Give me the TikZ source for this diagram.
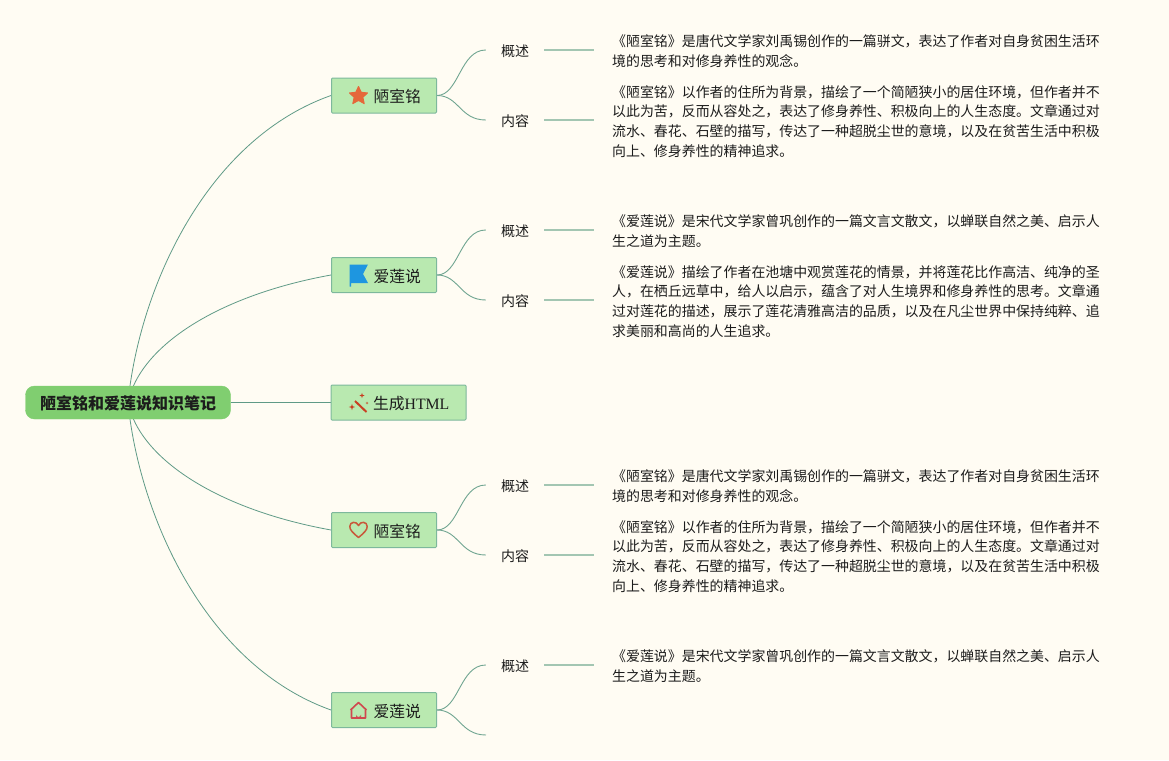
\documentclass[tikz,border=0pt]{standalone}
\usepackage{fontspec}
\setmainfont{Noto Sans CJK SC}
\newfontfamily\lat{Liberation Serif}
\usetikzlibrary{backgrounds,calc}
\definecolor{pagebg}{HTML}{FFFCF3}
\definecolor{rootfill}{HTML}{80CE70}
\definecolor{topicfill}{HTML}{B9E9B0}
\definecolor{topicedge}{HTML}{7DB89C}
\definecolor{mainline}{HTML}{5F9A86}
\definecolor{subline}{HTML}{A3C6B2}
\definecolor{ink}{HTML}{1C1C1C}
\definecolor{staricon}{HTML}{E5673A}
\definecolor{flagicon}{HTML}{1E96E0}
\definecolor{wandicon}{HTML}{C93F22}
\definecolor{hearticon}{HTML}{C8583A}
\definecolor{houseicon}{HTML}{D0484E}
\tikzset{
 x=1pt,y=-1pt,
 rootbox/.style={draw=rootfill,fill=rootfill,rounded corners=9pt,minimum width=205pt,minimum height=33pt,inner sep=0pt,font=\fontsize{16}{18}\selectfont\bfseries,text=ink,text height=15pt,text depth=1pt},
 topicbox/.style={draw=topicedge,line width=1pt,fill=topicfill,rounded corners=1pt,minimum width=105pt,minimum height=35pt,inner sep=0pt,font=\fontsize{15.8}{18}\selectfont,text=ink,text height=15pt,text depth=1pt},
 labelbox/.style={minimum width=58pt,minimum height=20pt,inner sep=0pt,font=\fontsize{14}{16}\selectfont,text=ink,text height=14pt,text depth=1.4pt},
 notebox/.style={anchor=west,align=left,inner xsep=18pt,inner ysep=0pt,font=\fontsize{13.93}{19.8}\selectfont,text=ink},
 mainedge/.style={draw=mainline,line width=0.8pt},
 subedge/.style={draw=subline,line width=1.2pt},
 subcurve/.style={draw=mainline!75!subline,line width=0.9pt},
}
\newcommand{\subcurveto}[2]{\draw[subcurve] (#1.east) .. controls ($(#1.east)+(22,0)$) and ($(#2.west)+(-26,0)$) .. (#2.west);}
\newcommand{\sparkle}[3]{\fill[wandicon] (#1-#3,#2) -- (#1-0.25*#3,#2-0.25*#3) -- (#1,#2-#3) -- (#1+0.25*#3,#2-0.25*#3) -- (#1+#3,#2) -- (#1+0.25*#3,#2+0.25*#3) -- (#1,#2+#3) -- (#1-0.25*#3,#2+0.25*#3) -- cycle;}
\newcommand{\LoushiA}{《陋室铭》是唐代文学家刘禹锡创作的一篇骈文，表达了作者对自身贫困生活环\\境的思考和对修身养性的观念。}
\newcommand{\LoushiB}{《陋室铭》以作者的住所为背景，描绘了一个简陋狭小的居住环境，但作者并不\\以此为苦，反而从容处之，表达了修身养性、积极向上的人生态度。文章通过对\\流水、春花、石壁的描写，传达了一种超脱尘世的意境，以及在贫苦生活中积极\\向上、修身养性的精神追求。}
\newcommand{\AilianA}{《爱莲说》是宋代文学家曾巩创作的一篇文言文散文，以蝉联自然之美、启示人\\生之道为主题。}
\newcommand{\AilianB}{《爱莲说》描绘了作者在池塘中观赏莲花的情景，并将莲花比作高洁、纯净的圣\\人，在栖丘远草中，给人以启示，蕴含了对人生境界和修身养性的思考。文章通\\过对莲花的描述，展示了莲花清雅高洁的品质，以及在凡尘世界中保持纯粹、追\\求美丽和高尚的人生追求。}
\begin{document}
\begin{tikzpicture}
\useasboundingbox (0,0) rectangle (1169,760);
% nodes
\node[rootbox] (root) at (128,402.5) {陋室铭和爱莲说知识笔记};
\node[topicbox,text width=95pt,align=left] (t1) at (384,95.5) {\hspace*{37pt}陋室铭};
\node[topicbox,text width=95pt,align=left] (t2) at (384,275) {\hspace*{37pt}爱莲说};
\node[topicbox,minimum width=135pt,text width=125pt,align=left] (t3) at (398.5,402.5) {\hspace*{37pt}生成{\lat HTML}};
\node[topicbox,text width=95pt,align=left] (t4) at (384,530) {\hspace*{37pt}陋室铭};
\node[topicbox,text width=95pt,align=left] (t5) at (384,710) {\hspace*{37pt}爱莲说};
\node[labelbox] (l1a) at (515,50) {概述};
\node[labelbox] (l1b) at (515,120) {内容};
\node[labelbox] (l2a) at (515,230) {概述};
\node[labelbox] (l2b) at (515,300) {内容};
\node[labelbox] (l4a) at (515,485) {概述};
\node[labelbox] (l4b) at (515,555) {内容};
\node[labelbox] (l5a) at (515,665) {概述};
\coordinate (l5bend) at (486,735);
\node[notebox] (n1a) at (594,51.5) {\LoushiA};
\node[notebox] (n1b) at (594,121.5) {\LoushiB};
\node[notebox] (n2a) at (594,231.5) {\AilianA};
\node[notebox] (n2b) at (594,301.5) {\AilianB};
\node[notebox] (n4a) at (594,486.5) {\LoushiA};
\node[notebox] (n4b) at (594,556.5) {\LoushiB};
\node[notebox] (n5a) at (594,666.5) {\AilianA};
% icons
\fill[staricon,draw=staricon,line width=1pt,line join=round] (358.5,86.5) -- (361.2,92.3) -- (367.5,93) -- (362.8,97.3) -- (364.2,103.6) -- (358.5,100.4) -- (352.8,103.6) -- (354.2,97.3) -- (349.5,93) -- (355.8,92.3) -- cycle;
\fill[flagicon] (349.5,264.5) -- (368,264.5) -- (363,274) -- (368,283) -- (351,283) -- (351,286.5) -- (349.5,286.5) -- cycle;
\draw[wandicon,line width=2pt] (355,401) -- (366.5,412);
\sparkle{352}{407}{3.2}
\sparkle{362}{395.5}{2.6}
\sparkle{367}{403}{1.5}
\draw[hearticon,line width=1.5pt,line join=round] (358.5,537.5) .. controls (353,533) and (349.8,530) .. (349.8,526.5) .. controls (349.8,521.5) and (356.5,520.8) .. (358.5,525.5) .. controls (360.5,520.8) and (367.2,521.5) .. (367.2,526.5) .. controls (367.2,530) and (364,533) .. (358.5,537.5) -- cycle;
\draw[houseicon,line width=1.6pt,line join=round] (350.5,710) -- (358.5,702.5) -- (366.5,710) (351.5,709) -- (351.5,718) -- (365.5,718) -- (365.5,709);
\fill[houseicon] (356,718) -- (356,714.5) arc (180:0:2.5) -- (361,718) -- cycle;
% connectors
\begin{scope}[on background layer]
\fill[pagebg] (0,0) rectangle (1169,760);
\draw[mainedge] (root.center) .. controls (139,290) and (205,140) .. (t1.west);
\draw[mainedge] (root.center) .. controls (140,345) and (220,295) .. (t2.west);
\draw[mainedge] (root.east) -- (t3.west);
\draw[mainedge] (root.center) .. controls (140,460) and (220,510) .. (t4.west);
\draw[mainedge] (root.center) .. controls (139,515) and (205,665) .. (t5.west);
\subcurveto{t1}{l1a} \subcurveto{t1}{l1b}
\subcurveto{t2}{l2a} \subcurveto{t2}{l2b}
\subcurveto{t4}{l4a} \subcurveto{t4}{l4b}
\subcurveto{t5}{l5a}
\draw[subcurve] (t5.east) .. controls ($(t5.east)+(22,0)$) and ($(l5bend)+(-26,0)$) .. (l5bend);
\draw[subedge] (l1a.east) -- (l1a.east -| n1a.west);
\draw[subedge] (l1b.east) -- (l1b.east -| n1b.west);
\draw[subedge] (l2a.east) -- (l2a.east -| n2a.west);
\draw[subedge] (l2b.east) -- (l2b.east -| n2b.west);
\draw[subedge] (l4a.east) -- (l4a.east -| n4a.west);
\draw[subedge] (l4b.east) -- (l4b.east -| n4b.west);
\draw[subedge] (l5a.east) -- (l5a.east -| n5a.west);
\end{scope}
\end{tikzpicture}
\end{document}
